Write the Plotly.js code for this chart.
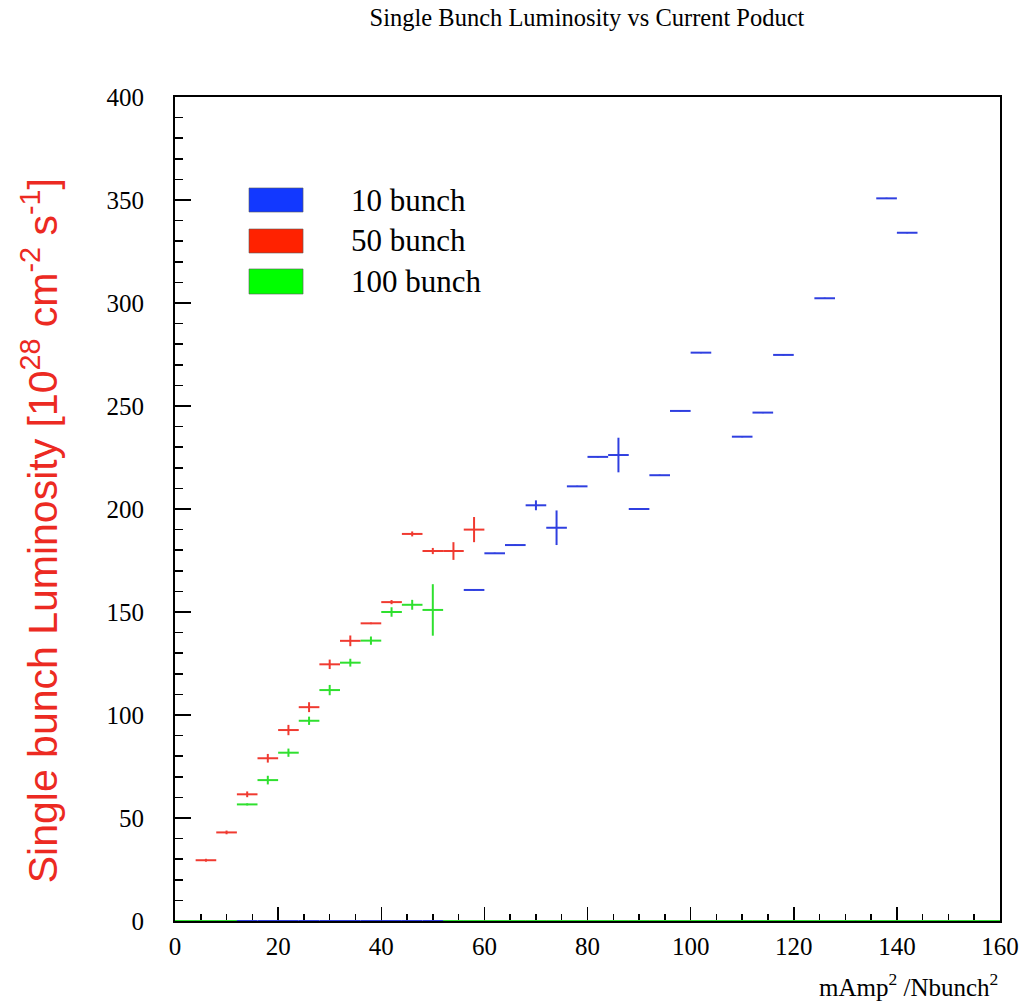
<!DOCTYPE html>
<html>
<head>
<meta charset="utf-8">
<script src="https://cdn.plot.ly/plotly-3.0.1.min.js"></script>
<style>
  html, body { margin: 0; padding: 0; background: #ffffff; }
  #chart { width: 1023px; height: 1003px; }
</style>
</head>
<body>
<div id="chart"></div>
<script>
// Histogram bin centres (bin width 4 in mAmp^2/Nbunch^2)
const binCenters = [2, 6, 10, 14, 18, 22, 26, 30, 34, 38, 42, 46, 50, 54, 58, 62, 66, 70, 74, 78,
                    82, 86, 90, 94, 98, 102, 106, 110, 114, 118, 122, 126, 130, 134, 138, 142, 146, 150, 154, 158];
const halfBinWidth = 2;

// 10 bunch running
const lumi10 = [0, 0, 0, 0, 0, 0, 0, 0, 0, 0, 0, 0, 0, 0,
                160.7, 178.5, 182.5, 201.8, 190.9, 211.0, 225.3, 226.2, 200.0, 216.4, 247.6, 275.9,
                0, 235.1, 246.8, 274.8, 0, 302.3, 0, 0, 350.8, 334.1, 0, 0, 0, 0];
const err10 = [0, 0, 0, 0, 0, 0, 0, 0, 0, 0, 0, 0, 0, 0,
               0.3, 0.3, 0.3, 2.4, 8.4, 0.3, 0.3, 8.4, 0.3, 0.3, 0.3, 0.3,
               0, 0.3, 0.3, 0.3, 0, 0.3, 0, 0, 0.3, 0.3, 0, 0, 0, 0];

// 50 bunch running
const lumi50 = [0, 29.5, 43.0, 61.5, 79.0, 92.7, 103.8, 124.6, 136.0, 144.5, 154.8, 187.9, 179.6, 179.6, 190.0,
                0, 0, 0, 0, 0, 0, 0, 0, 0, 0, 0, 0, 0, 0, 0, 0, 0, 0, 0, 0, 0, 0, 0, 0, 0];
const err50 = [0, 0.7, 0.9, 1.4, 2.1, 2.5, 2.4, 2.3, 2.6, 0.4, 1.0, 1.2, 1.5, 4.3, 6.1,
               0, 0, 0, 0, 0, 0, 0, 0, 0, 0, 0, 0, 0, 0, 0, 0, 0, 0, 0, 0, 0, 0, 0, 0, 0];

// 100 bunch running
const lumi100 = [0, 0, 0, 56.6, 68.4, 81.7, 97.2, 112.1, 125.4, 136.1, 150.0, 153.5, 151.0,
                 0, 0, 0, 0, 0, 0, 0, 0, 0, 0, 0, 0, 0, 0, 0, 0, 0, 0, 0, 0, 0, 0, 0, 0, 0, 0, 0];
const err100 = [0, 0, 0, 0.5, 2.1, 2.0, 2.0, 2.5, 1.9, 2.0, 2.3, 2.4, 12.5,
                0, 0, 0, 0, 0, 0, 0, 0, 0, 0, 0, 0, 0, 0, 0, 0, 0, 0, 0, 0, 0, 0, 0, 0, 0, 0, 0];

const seriesNames = ['10 bunch', '50 bunch', '100 bunch'];
const barColors = ['#2f3fe0', '#f03a30', '#2fe02f'];
const keyColors = ['#1238ff', '#ff2200', '#00ff00'];

function histTrace(values, errors, idx) {
  return {
    type: 'scatter',
    mode: 'markers',
    name: seriesNames[idx],
    x: binCenters,
    y: values,
    marker: { size: 1, opacity: 0, color: barColors[idx] },
    error_x: { type: 'constant', value: halfBinWidth, width: 0, thickness: 2, color: barColors[idx] },
    error_y: { type: 'data', array: errors, visible: true, width: 0, thickness: 2, color: barColors[idx] },
    cliponaxis: false,
    showlegend: false,
    hoverinfo: 'x+y'
  };
}

// draw order: 50, 10, 100 bunch
const data = [
  histTrace(lumi50, err50, 1),
  histTrace(lumi10, err10, 0),
  histTrace(lumi100, err100, 2)
];

const serif = 'Liberation Serif, Times New Roman, serif';

// hand-drawn key: coloured boxes with labels
const keyTop = [0.8896, 0.8398, 0.7913];
const keyBottom = [0.8604, 0.8107, 0.7609];
const shapes = seriesNames.map((n, i) => ({
  type: 'rect', xref: 'paper', yref: 'paper',
  x0: 0.0897, x1: 0.1552, y0: keyBottom[i], y1: keyTop[i],
  fillcolor: keyColors[i], line: { color: 'rgba(90,90,90,0.6)', width: 1 }
}));
const annotations = seriesNames.map((n, i) => ({
  xref: 'paper', yref: 'paper', x: 0.211, y: (keyTop[i] + keyBottom[i]) / 2,
  xanchor: 'left', yanchor: 'middle', showarrow: false,
  text: n, font: { family: serif, size: 31, color: '#000' }
}));
annotations.push({
  xref: 'paper', yref: 'paper', x: -0.1636, y: 0.473,
  xanchor: 'center', yanchor: 'middle', showarrow: false, textangle: -90,
  text: 'Single bunch Luminosity [10<sup>28</sup> cm<sup>-2</sup> s<sup>-1</sup>]',
  font: { family: 'Liberation Sans, Arial, sans-serif', size: 41, color: '#ec2a22' }
});
annotations.push({
  xref: 'paper', yref: 'paper', x: 1, y: -0.078,
  xanchor: 'right', yanchor: 'middle', showarrow: false,
  text: 'mAmp<sup>2</sup> /Nbunch<sup>2</sup>',
  font: { family: serif, size: 25, color: '#000' }
});

const layout = {
  width: 1023, height: 1003,
  margin: { l: 175, r: 23, t: 97, b: 82 },
  paper_bgcolor: '#ffffff', plot_bgcolor: '#ffffff',
  showlegend: false,
  title: {
    text: 'Single Bunch Luminosity vs Current Poduct',
    font: { family: serif, size: 24.5, color: '#000' },
    x: 0.5738, xanchor: 'center', xref: 'container',
    y: 0.983, yanchor: 'middle', yref: 'container'
  },
  xaxis: {
    range: [0, 160], dtick: 20, tick0: 0,
    showgrid: false, zeroline: false,
    showline: true, linecolor: '#000', linewidth: 2, mirror: true,
    ticks: 'inside', ticklen: 14, tickwidth: 1.5, tickcolor: '#000',
    minor: { dtick: 5, ticks: 'inside', ticklen: 7, tickwidth: 1.5, tickcolor: '#000', showgrid: false },
    tickfont: { family: serif, size: 25, color: '#000' },
    ticklabelstandoff: 2,
    layer: 'below traces',
    fixedrange: true
  },
  yaxis: {
    range: [0, 400], dtick: 50, tick0: 0,
    showgrid: false, zeroline: false,
    showline: true, linecolor: '#000', linewidth: 2, mirror: true,
    ticks: 'inside', ticklen: 16, tickwidth: 1.5, tickcolor: '#000',
    minor: { dtick: 10, ticks: 'inside', ticklen: 8, tickwidth: 1.5, tickcolor: '#000', showgrid: false },
    tickfont: { family: serif, size: 25, color: '#000' },
    ticklabelstandoff: 24,
    layer: 'below traces',
    fixedrange: true
  },
  shapes: shapes,
  annotations: annotations
};

Plotly.newPlot('chart', data, layout, { displayModeBar: false, staticPlot: true });
</script>
</body>
</html>
